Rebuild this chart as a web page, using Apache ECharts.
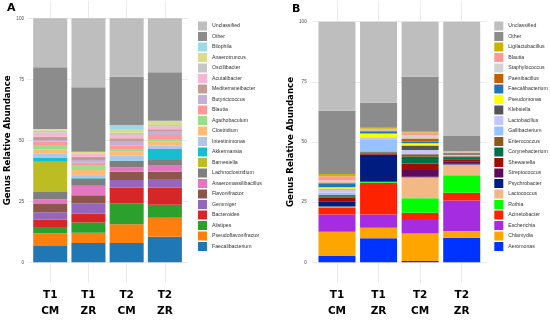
<!DOCTYPE html>
<html><head><meta charset="utf-8">
<script src="https://cdn.jsdelivr.net/npm/echarts@6/dist/echarts.min.js"></script>
<style>html,body{margin:0;padding:0;background:#fff}#c{width:550px;height:321px}</style>
</head><body><div id="c"></div>
<script>
// ---------- Panel A (stack order bottom -> top) ----------
const genusA = ['Faecalibacterium','Pseudoflavonifractor','Alistipes','Bacteroides','Gemmiger','Flavonifractor','Anaeromassilibacillus','Lachnoclostridium','Barnesiella','Akkermansia','Intestinimonas','Clostridium','Agathobaculum','Blautia','Butyricicoccus','Mediterraneibacter','Acutalibacter','Oscillibacter','Anaerotruncus','Bilophila','Other','Unclassified'];
const colorsA = ['#1f77b4','#ff7f0e','#2ca02c','#d62728','#9467bd','#8c564b','#e377c2','#7f7f7f','#bcbd22','#17becf','#aec7e8','#ffbb78','#98df8a','#ff9896','#c5b0d5','#c49c94','#f7b6d2','#c7c7c7','#dbdb8d','#9edae5','#8c8c8c','#bebebe'];
const a_T1CM = [6.7,5.2,2.6,3.0,3.0,3.4,1.9,3.0,12.4,1.8,1.7,1.6,1.8,1.3,0.7,1.4,1.6,0.8,0.5,0.2,25.3,20.1];
const a_T1ZR = [7.9,4.2,4.2,3.6,4.2,3.4,3.9,2.9,0.0,0.3,0.8,2.4,2.1,0.9,1.1,1.4,1.2,0.2,0.6,0.0,26.4,28.3];
const a_T2CM = [7.9,7.7,8.6,6.4,3.1,3.4,1.8,2.6,0.0,0.2,2.0,1.6,1.1,1.4,1.6,1.4,1.4,0.9,1.5,1.7,19.7,24.0];
const a_T2ZR = [10.5,7.8,5.3,7.0,3.5,3.0,2.8,2.0,0.0,4.5,1.4,1.6,1.1,1.7,1.3,1.0,1.1,0.7,1.6,0.1,19.9,22.1];

// ---------- Panel B (stack order bottom -> top) ----------
const genusB = ['Aeromonas','Chlamydia','Escherichia','Acinetobacter','Rothia','Lactococcus','Psychrobacter','Streptococcus','Shewanella','Corynebacterium','Enterococcus','Gallibacterium','Lactobacillus','Klebsiella','Pseudomonas','Faecalibacterium','Paenibacillus','Staphylococcus','Blautia','Ligilactobacillus','Other','Unclassified'];
const colorsB = ['#0033ff','#ffa500','#a52ce0','#ff2200','#00ff00','#f2b885','#001c80','#5c0a5a','#a00c00','#00704a','#8b5a1e','#96c2ff','#c6c6ff','#555555','#ffff00','#1f77b4','#c06000','#d3d3d3','#ff9896','#c8b400','#8c8c8c','#bebebe'];
const b_T1CM = [2.6,10.1,7.2,2.8,0.4,0.1,2.0,0.3,1.3,0.7,0.6,0.8,1.5,0.2,0.6,1.5,0.5,0.8,1.8,0.9,26.3,37.0];
const b_T1ZR = [10.0,4.4,5.5,13.2,0.3,0.1,11.1,0.2,0.4,0.4,0.4,5.1,0.7,0.1,1.6,0.8,0.5,0.3,0.4,0.4,10.4,33.7];
const b_T2CM = [0.5,11.5,6.0,2.6,6.0,8.8,0.2,2.8,2.7,2.8,1.0,0.4,1.4,1.8,1.0,0.6,1.4,1.4,1.0,0.7,22.5,22.9];
const b_T2ZR = [10.2,2.8,12.7,3.2,7.3,4.5,0.5,0.8,0.8,0.5,0.8,0.3,0.3,0.3,0.1,0.3,0.2,0.3,0.1,0.2,6.3,47.5];

const groups = ['T1\nCM','T1\nZR','T2\nCM','T2\nZR'];
const yTicks = [0,25,50,75,100];
const yTitle = 'Genus Relative Abundance';

// half-step points for vertical gridlines at category centres
const fineCats = [];
for (let i = 0; i <= 42; i++) fineCats.push(String(i));

const chart = echarts.init(document.getElementById('c'), null, {renderer:'canvas'});
const grid = '#ebebeb';

function panel(p) {
  // p: {left, width, wideLeft, wideWidth, top, height, labelMargin, nameGap, gi}
  const grids = [
    {left:p.left, width:p.width, top:p.top, height:p.height},
    {left:p.wideLeft, width:p.wideWidth, top:p.top, height:p.height},
    {left:p.wideLeft, width:p.wideWidth, top:1, height:282}
  ];
  const xAxes = [
    {gridIndex:p.gi, type:'category', data:groups, axisLine:{show:false}, axisTick:{show:false}, splitLine:{show:false},
     axisLabel:{margin:24.7, fontSize:10.5, fontWeight:'bold', fontFamily:'DejaVu Sans', color:'#000', lineHeight:16}},
    {gridIndex:p.gi+1, type:'category', data:groups, show:false},
    {gridIndex:p.gi+2, type:'category', data:fineCats, boundaryGap:false, axisLine:{show:false}, axisTick:{show:false}, axisLabel:{show:false},
     splitLine:{show:true, interval:(i)=> (i % 10) === 6, lineStyle:{color:grid, width:1}}}
  ];
  const yAxes = [
    {gridIndex:p.gi, type:'value', min:0, max:100, interval:25, show:false},
    {gridIndex:p.gi+1, type:'value', min:0, max:100, interval:25,
     axisLine:{show:false}, axisTick:{show:false},
     axisLabel:{margin:p.labelMargin, fontSize:4.6, color:'#4d4d4d', fontFamily:'Liberation Sans',
       formatter:(v)=> yTicks.indexOf(v) >= 0 ? String(v) : ''},
     splitLine:{show:true, lineStyle:{color:grid, width:1}},
     name:yTitle, nameLocation:'middle', nameRotate:90, nameGap:p.nameGap,
     nameTextStyle:{fontSize:8.6, fontWeight:'bold', fontFamily:'DejaVu Sans', color:'#000'}},
    {gridIndex:p.gi+2, type:'value', min:0, max:100, show:false}
  ];
  return {grids, xAxes, yAxes};
}

const pA = panel({left:31.1, width:152.9, wideLeft:27.3, wideWidth:160.6, top:18.3, height:244, labelMargin:3.3, nameGap:11, gi:0});
const pB = panel({left:316.2, width:166.3, wideLeft:312.0, wideWidth:174.7, top:21.7, height:240.6, labelMargin:5.3, nameGap:12, gi:3});

const series = [];
genusA.forEach((g, i) => {
  series.push({type:'bar', name:g, stack:'A', xAxisIndex:0, yAxisIndex:0, barCategoryGap:'11%',
    itemStyle:{color:colorsA[i]}, emphasis:{disabled:true},
    data:[a_T1CM[i], a_T1ZR[i], a_T2CM[i], a_T2ZR[i]]});
});
genusB.forEach((g, i) => {
  series.push({type:'bar', name:g, stack:'B', xAxisIndex:3, yAxisIndex:3, barCategoryGap:'11%',
    itemStyle:{color:colorsB[i]}, emphasis:{disabled:true},
    data:[b_T1CM[i], b_T1ZR[i], b_T2CM[i], b_T2ZR[i]]});
});

function legendFor(names, colors, left) {
  const data = [];
  for (let i = names.length - 1; i >= 0; i--) data.push({name:names[i], icon:'rect', itemStyle:{color:colors[i]}});
  return {orient:'vertical', left:left, top:21.5, padding:0, itemWidth:9, itemHeight:9, itemGap:1.5,
    selectedMode:false, data:data,
    textStyle:{fontSize:5.2, fontFamily:'Liberation Sans', color:'#333'}};
}

chart.setOption({
  animation:false,
  backgroundColor:'#fff',
  title:[
    {text:'A', left:7, top:3, padding:0, textStyle:{fontSize:11, fontWeight:'bold', fontFamily:'DejaVu Sans', color:'#000'}},
    {text:'B', left:292, top:4, padding:0, textStyle:{fontSize:11, fontWeight:'bold', fontFamily:'DejaVu Sans', color:'#000'}}
  ],
  grid:[...pA.grids, ...pB.grids],
  xAxis:[...pA.xAxes, ...pB.xAxes],
  yAxis:[...pA.yAxes, ...pB.yAxes],
  legend:[legendFor(genusA, colorsA, 198), legendFor(genusB, colorsB, 494.3)],
  series:series
});
</script></body></html>
